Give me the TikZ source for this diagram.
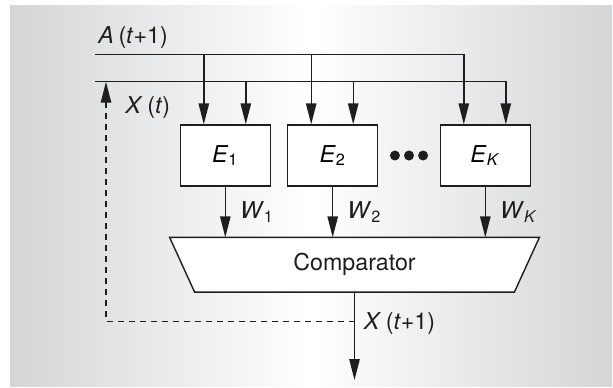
\documentclass[tikz,border=0pt]{standalone}
\usepackage{fontspec}
\setmainfont{TeX Gyre Heros}
\usetikzlibrary{arrows.meta, positioning, calc}
\definecolor{panel}{RGB}{212,213,215}
\definecolor{ink}{RGB}{30,30,30}

\tikzset{
  arr/.style={draw=ink, line width=0.7pt, -{Triangle[length=10.5pt, width=5.2pt]}},
  unit/.style={draw=ink, fill=white, line width=0.7pt, minimum width=45pt, minimum height=30.5pt, inner sep=0pt},
  lbl/.style={inner sep=0pt, anchor=west, text=ink},
  dot/.style={circle, fill=ink, inner sep=0pt, minimum size=5pt},
  fbline/.style={arr, dash pattern=on 3pt off 2.5pt}
}

\begin{document}
\begin{tikzpicture}[x=0.5pt, y=-0.5pt, font=\fontsize{11.6}{13}\selectfont]
  \useasboundingbox (0,0) rectangle (613,387);
  \shade[left color=panel, right color=panel, middle color=white] (10,5) rectangle (612,386);

  % experts
  \node[unit] (e1) at (225.3,155.5) {\textit{E}\textsubscript{1}};
  \node[unit] (e2) at (332.7,155.5) {\textit{E}\textsubscript{2}};
  \node[unit] (ek) at (485.3,155.5) {\textit{E}\textsubscript{\textit{K}}};
  \foreach \i/\f in {1/0.27, 2/0.5, 3/0.73}
    \node[dot] (d\i) at ($(e2.east)!\f!(ek.west)$) {};

  % comparator
  \node[minimum width=184.5pt, minimum height=27pt, inner sep=0pt] (cmp) at (354.5,264.7) {};
  \draw[draw=ink, fill=white, line width=0.7pt] (cmp.north west) -- (cmp.north east)
    -- ($(cmp.south east)+(-25,0)$) -- ($(cmp.south west)+(25,0)$) -- cycle;
  \node[text=ink] at (cmp.center) {Comparator};

  % input buses
  \coordinate (busA) at (95,54.3);
  \coordinate (busX) at (95,81.7);
  \node[lbl] (lblA) at (98,37) {\textit{A}\hspace{0.2em}(\textit{t}+1)};
  \node[lbl] (lblX) at (125,107) {\textit{X}\hspace{0.2em}(\textit{t})};
  \foreach \b in {e1,e2,ek} {
    \coordinate (\b a) at ($(\b.north)+(-21.5,0)$);
    \coordinate (\b x) at ($(\b.north)+(20.5,0)$);
  }
  \draw[arr] (busA) -| (eka);
  \draw[arr] (busX) -| (ekx);
  \foreach \b in {e1,e2} {
    \draw[arr] (\b a |- busA) -- (\b a);
    \draw[arr] (\b x |- busX) -- (\b x);
  }

  % weights
  \foreach \b/\w in {e1/1, e2/2, ek/\textit{K}} {
    \draw[arr] (\b.south) -- (\b.south |- cmp.north)
      node[lbl, midway, xshift=7pt] (w\b) {\textit{W}\textsubscript{\w}};
  }

  % output and feedback
  \coordinate (out) at (354.5,380);
  \coordinate (tap) at ($(cmp.south)+(0,29.3)$);
  \coordinate (fbTop) at ($(busX)+(11,0)$);
  \draw[arr] (cmp.south) -- (out);
  \draw[fbline] (tap) -| (fbTop);
  \node[lbl] (lblOut) at ($(tap)+(9,2)$) {\textit{X}\hspace{0.2em}(\textit{t}+1)};
\end{tikzpicture}
\end{document}
